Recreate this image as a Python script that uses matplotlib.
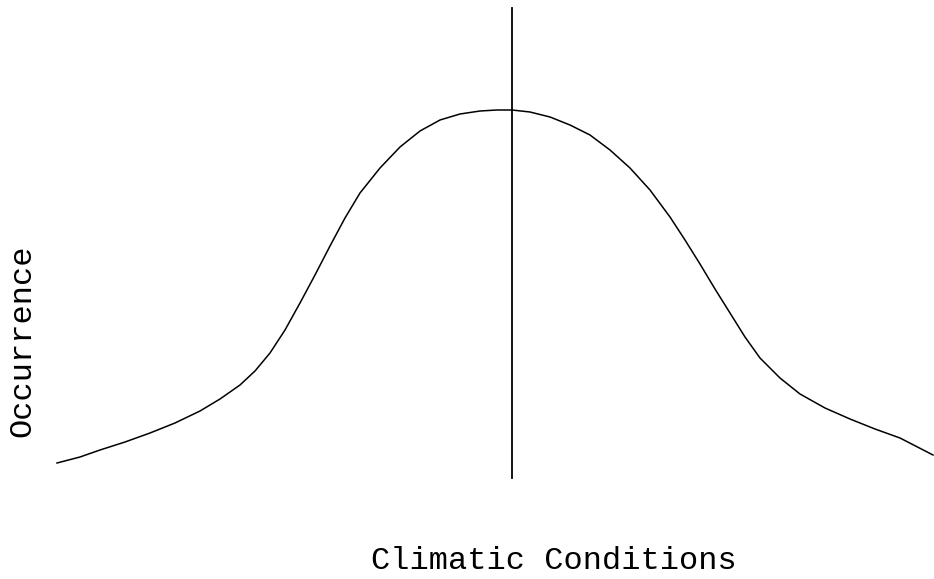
import matplotlib as mpl
mpl.use('Agg')
import matplotlib.pyplot as plt

# curve (x = climatic condition, y = occurrence, image units)
cond = [57, 80, 100, 125, 150, 175, 200, 220, 240, 255, 270, 285, 300, 315, 330, 345,
        360, 380, 400, 420, 440, 460, 480, 497, 512, 530, 550, 570, 590, 610, 630, 650,
        670, 685, 700, 715, 730, 745, 760, 780, 800, 825, 850, 875, 900, 933]
occ = [463, 457, 450, 442, 433, 423, 411, 399, 385, 371, 353, 330, 303, 275, 246, 218,
       193, 168, 147, 131, 120, 114, 111, 110, 110, 112, 117, 125, 135, 150, 168, 190,
       217, 240, 264, 289, 313, 337, 358, 378, 394, 408, 419, 429, 438, 455]
mean_x = 512
mean_top, mean_bottom = 8, 478

fig = plt.figure(figsize=(9.34, 5.79), dpi=100)
ax = fig.add_axes([0, 0, 1, 1])
ax.set_xlim(0, 934)
ax.set_ylim(579, 0)
ax.axis('off')

ax.plot(cond, occ, color='black', linewidth=1.1, solid_joinstyle='round')
ax.plot([mean_x, mean_x], [mean_top, mean_bottom], color='black', linewidth=1.3)

ax.text(554, 569, 'Climatic Conditions', fontsize=23, family='Liberation Mono',
        ha='center', va='baseline')
ax.text(22, 341, 'Occurrence', fontsize=23, family='Liberation Mono',
        ha='center', va='center', rotation=90)

plt.savefig('out.png', dpi=100)
